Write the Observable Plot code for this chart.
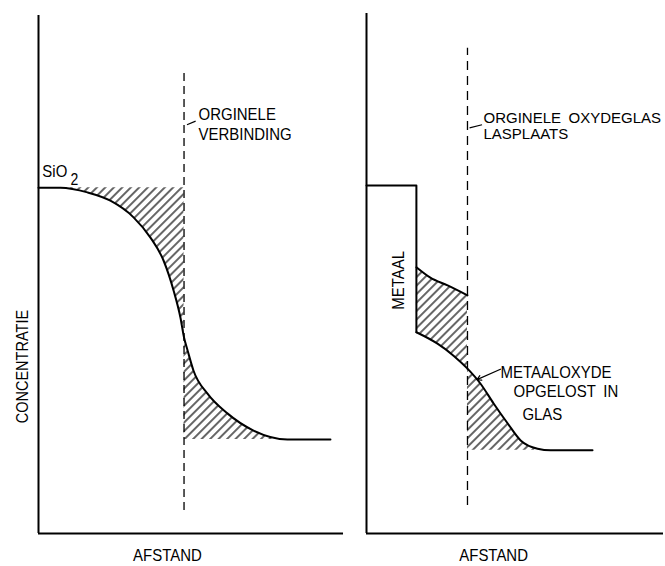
<!DOCTYPE html>
<html><head><meta charset="utf-8">
<script src="https://cdn.jsdelivr.net/npm/d3@7"></script>
<script src="https://cdn.jsdelivr.net/npm/@observablehq/plot@0.6"></script>
<style>
body{margin:0;background:#fff;}
#wrap{display:flex;width:665px;height:566px;}
#wrap svg{display:block;}
</style></head><body><div id="wrap"></div>
<script>
// ---------- data (afstand 0-100, concentratie 0-100) ----------
// left panel: SiO2 profile
const sio2Afstand = [0, 7.4, 16.5, 24.2, 32.0, 37.7, 42.1, 45.5, 47.8, 49.0, 50.2, 52.2, 56.9, 63.6, 72.4, 83.8, 98.3];
const sio2Conc    = [66.5, 66.5, 65.6, 64.0, 60.8, 56.9, 52.5, 46.7, 41.5, 37.7, 35.2, 31.3, 26.9, 23.1, 19.8, 18.1, 18.1];
const sio2Hoog = 66.5, sio2Laag = 18.1;
const grensLinks = 49.0;

// right panel: metal block + dissolved metal oxide profile
const metaalAfstand = [0, 16.8, 16.8, 23.9, 29.3, 34.0, 38.4, 42.8, 47.5, 51.9, 57.6, 62.0, 76.1];
const metaalConc    = [66.9, 66.9, 38.7, 36.5, 34.2, 31.7, 28.8, 25.0, 21.2, 17.9, 16.3, 16.0, 16.0];
const oxideAfstand  = [16.8, 21.5, 27.3, 34.0];
const oxideConc     = [51.2, 49.2, 47.7, 45.8];
const glasLaag = 16.0;
const grensRechts = 34.0;

// texts
const asX = "AFSTAND", asY = "CONCENTRATIE";
const labelSiO = "SiO", labelSub = "2";
const labelVerb = ["ORGINELE", "VERBINDING"];
const labelLas = ["ORGINELE\u2002OXYDEGLAS", "LASPLAATS"];
const labelMetaal = "METAAL";
const labelOxide = ["METAALOXYDE", "OPGELOST\u2002IN", "GLAS"];

// ---------- build ----------
const pts = (xs, ys) => xs.map((x, i) => ({x, y: ys[i], i}));
const sio2 = pts(sio2Afstand, sio2Conc);
const metaal = pts(metaalAfstand, metaalConc);
const oxide = pts(oxideAfstand, oxideConc);
const lowerOx = metaal.filter(d => d.i >= 2 && d.x <= grensRechts);
const tussen = oxide.map((d, i) => ({x1: d.x, y1: d.y, x2: lowerOx[i].x, y2: lowerOx[i].y}));

function addHatch(svg, id) {
  const ns = "http://www.w3.org/2000/svg";
  const defs = document.createElementNS(ns, "defs");
  const pat = document.createElementNS(ns, "pattern");
  pat.setAttribute("id", id);
  pat.setAttribute("patternUnits", "userSpaceOnUse");
  pat.setAttribute("width", 6);
  pat.setAttribute("height", 6);
  pat.setAttribute("patternTransform", "rotate(45)");
  const ln = document.createElementNS(ns, "line");
  ln.setAttribute("x1", 3); ln.setAttribute("y1", -1);
  ln.setAttribute("x2", 3); ln.setAttribute("y2", 7);
  ln.setAttribute("stroke", "#000");
  ln.setAttribute("stroke-width", 1.2);
  pat.appendChild(ln);
  defs.appendChild(pat);
  svg.insertBefore(defs, svg.firstChild);
}

const common = {
  height: 566, marginTop: 13, marginBottom: 33,
  x: {domain: [0, 100], axis: null},
  y: {domain: [0, 100], axis: null},
  style: {fontFamily: "Liberation Sans, Arial, sans-serif", color: "#000", background: "#fff"}
};
const T = (arr, opts) => Plot.text(arr, {fill: "#000", fontSize: 17, ...opts});

const left = Plot.plot({
  ...common, width: 350, marginLeft: 38, marginRight: 15,
  marks: [
    Plot.areaY(sio2.filter(d => d.x <= grensLinks), {x: "x", y1: "y", y2: () => sio2Hoog, fill: "url(#hatchL)", curve: "monotone-x"}),
    Plot.areaY(sio2.filter(d => d.x >= grensLinks), {x: "x", y1: () => sio2Laag, y2: "y", fill: "url(#hatchL)", curve: "monotone-x"}),
    Plot.ruleX([0], {y1: 0, y2: 99.6, stroke: "#000", strokeWidth: 2}),
    Plot.ruleY([0], {x1: 0, x2: 102.7, stroke: "#000", strokeWidth: 2}),
    Plot.ruleX([grensLinks], {y1: 4.4, y2: 89.4, stroke: "#000", strokeWidth: 1.3, strokeDasharray: "8,5"}),
    Plot.line(sio2, {x: "x", y: "y", stroke: "#000", strokeWidth: 2, curve: "monotone-x"}),
    T([labelSiO], {x: 1.3, y: 70.8, textAnchor: "start", lineAnchor: "top"}),
    T([labelSub], {x: 10.8, y: 69.2, textAnchor: "start", lineAnchor: "top", fontSize: 16}),
    T([labelVerb[0]], {x: 53.9, y: 81.9, textAnchor: "start", lineAnchor: "top"}),
    T([labelVerb[1]], {x: 53.9, y: 77.9, textAnchor: "start", lineAnchor: "top"}),
    Plot.link([0], {x1: 50.0, y1: 78.6, x2: 52.9, y2: 79.3, stroke: "#000", strokeWidth: 1.2}),
    T([asY], {x: -5.4, y: 32.1, rotate: -90, textAnchor: "middle", lineAnchor: "middle", fontSize: 16.5}),
    T([asX], {x: 43.4, y: -4.3, textAnchor: "middle", lineAnchor: "middle"})
  ]
});

const right = Plot.plot({
  ...common, width: 315, marginLeft: 16, marginRight: 2,
  marks: [
    Plot.area(tussen, {x1: "x1", y1: "y1", x2: "x2", y2: "y2", fill: "url(#hatchR)", curve: "monotone-x"}),
    Plot.areaY(metaal.filter(d => d.i >= 5), {x: "x", y1: () => glasLaag, y2: "y", fill: "url(#hatchR)", curve: "monotone-x"}),
    Plot.ruleX([0], {y1: 0, y2: 100, stroke: "#000", strokeWidth: 2}),
    Plot.ruleY([0], {x1: 0, x2: 100, stroke: "#000", strokeWidth: 2}),
    Plot.ruleX([grensRechts], {y1: 5.4, y2: 93.3, stroke: "#000", strokeWidth: 1.3, strokeDasharray: "9,6"}),
    Plot.line(metaal.filter(d => d.i <= 2), {x: "x", y: "y", stroke: "#000", strokeWidth: 2}),
    Plot.line(metaal.filter(d => d.i >= 2), {x: "x", y: "y", stroke: "#000", strokeWidth: 2, curve: "monotone-x"}),
    Plot.line(oxide, {x: "x", y: "y", stroke: "#000", strokeWidth: 2, curve: "monotone-x"}),
    T([labelLas[0]], {x: 39.4, y: 81.0, textAnchor: "start", lineAnchor: "top", fontSize: 15}),
    T([labelLas[1]], {x: 39.4, y: 77.9, textAnchor: "start", lineAnchor: "top", fontSize: 15}),
    Plot.link([0], {x1: 34.7, y1: 78.0, x2: 38.9, y2: 78.6, stroke: "#000", strokeWidth: 1.2}),
    T([labelMetaal], {x: 10.8, y: 48.7, rotate: -90, textAnchor: "middle", lineAnchor: "middle"}),
    T([labelOxide[0]], {x: 45.1, y: 32.3, textAnchor: "start", lineAnchor: "top"}),
    T([labelOxide[1]], {x: 49.5, y: 28.5, textAnchor: "start", lineAnchor: "top"}),
    T([labelOxide[2]], {x: 52.5, y: 24.2, textAnchor: "start", lineAnchor: "top"}),
    Plot.arrow([0], {x1: 45.1, y1: 31.6, x2: 37.2, y2: 29.6, stroke: "#000", strokeWidth: 1.2, headLength: 6, bend: 0}),
    T([asX], {x: 42.8, y: -4.3, textAnchor: "middle", lineAnchor: "middle"})
  ]
});

addHatch(left, "hatchL");
addHatch(right, "hatchR");
document.getElementById("wrap").append(left, right);

// condense lettering horizontally (narrow technical lettering of the original)
document.querySelectorAll("#wrap text").forEach(t => {
  if (labelLas.includes(t.textContent)) return;
  const L = t.getComputedTextLength();
  if (L > 0) {
    t.setAttribute("textLength", (L * 0.88).toFixed(1));
    t.setAttribute("lengthAdjust", "spacingAndGlyphs");
  }
});
</script>
</body></html>
